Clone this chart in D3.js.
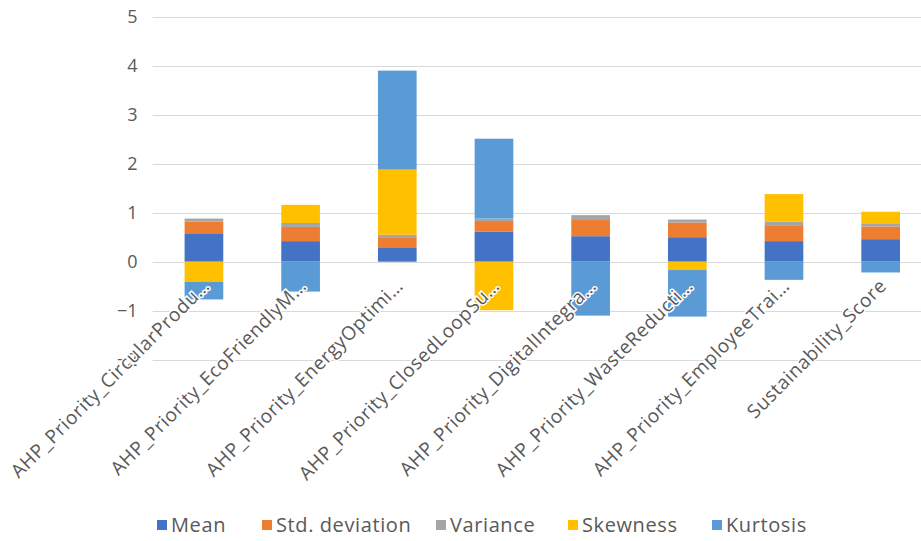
<!DOCTYPE html>
<html>
<head>
<meta charset="utf-8">
<script src="https://cdn.jsdelivr.net/npm/d3@7"></script>
<style>
  html, body { margin: 0; padding: 0; background: #fff; }
  svg { display: block; }
  text { font-family: "Open Sans", Lato, "Liberation Sans", sans-serif; fill: #595959; }
</style>
</head>
<body>
<svg id="chart" width="921" height="541"></svg>
<script>
// Category labels as shown on the axis (long names are truncated with an ellipsis)
const categories = [
  "AHP_Priority_CircularProdu…",
  "AHP_Priority_EcoFriendlyM…",
  "AHP_Priority_EnergyOptimi…",
  "AHP_Priority_ClosedLoopSu…",
  "AHP_Priority_DigitalIntegra…",
  "AHP_Priority_WasteReducti…",
  "AHP_Priority_EmployeeTrai…",
  "Sustainability_Score"
];

// Descriptive statistics per variable
const mean      = [0.58, 0.42, 0.28, 0.61, 0.52, 0.50, 0.42, 0.46];
const stdDev    = [0.24, 0.29, 0.22, 0.22, 0.33, 0.30, 0.31, 0.26];
const variance  = [0.06, 0.08, 0.05, 0.05, 0.10, 0.06, 0.09, 0.05];
const skewness  = [-0.41, 0.37, 1.33, -0.99, 0.00, -0.17, 0.56, 0.25];
const kurtosis  = [-0.36, -0.61, 2.02, 1.63, -1.10, -0.95, -0.37, -0.22];

const seriesNames = ["Mean", "Std. deviation", "Variance", "Skewness", "Kurtosis"];
const yTicks = [-2, -1, 0, 1, 2, 3, 4, 5];

const seriesValues = [mean, stdDev, variance, skewness, kurtosis];
const colors = ["#4472C4", "#ED7D31", "#A5A5A5", "#FFC000", "#5B9BD5"];

// Build rows for d3.stack
const rows = categories.map((c, i) => {
  const r = { category: c };
  seriesNames.forEach((s, k) => { r[s] = seriesValues[k][i]; });
  return r;
});

const stack = d3.stack()
  .keys(seriesNames)
  .order(d3.stackOrderNone)
  .offset(d3.stackOffsetDiverging);
const layers = stack(rows);

const svg = d3.select("#chart");

const plot = { left: 155.6, right: 929, top: 16.7, bottom: 359.7 };

const x = d3.scaleBand()
  .domain(categories)
  .range([plot.left, plot.right])
  .paddingInner(0.6)
  .paddingOuter(0.3);

const y = d3.scaleLinear()
  .domain([-2, 5])
  .range([plot.bottom, plot.top]);

// Horizontal gridlines
svg.append("g")
  .selectAll("line")
  .data(yTicks)
  .join("line")
  .attr("x1", plot.left - 3)
  .attr("x2", plot.right)
  .attr("y1", d => Math.round(y(d)) + 0.5)
  .attr("y2", d => Math.round(y(d)) + 0.5)
  .attr("stroke", "#d9d9d9")
  .attr("stroke-width", 1);

// Y axis tick labels
const yAxis = d3.axisLeft(y).tickValues(yTicks).tickFormat(d3.format("d")).tickSize(0).tickPadding(18);
const yg = svg.append("g")
  .attr("transform", `translate(${plot.left},0)`)
  .call(yAxis);
yg.select(".domain").remove();
yg.selectAll("text")
  .style("font-size", "18px")
  .style("font-family", "\"Open Sans\", Lato, sans-serif")
  .attr("fill", "#595959");

// Stacked bars
svg.append("g")
  .selectAll("g")
  .data(layers)
  .join("g")
  .attr("fill", (d, i) => colors[i])
  .selectAll("rect")
  .data(d => d)
  .join("rect")
  .attr("x", d => x(d.data.category))
  .attr("width", x.bandwidth())
  .attr("y", d => y(Math.max(d[0], d[1])))
  .attr("height", d => Math.abs(y(d[0]) - y(d[1])));

// Category labels, rotated
svg.append("g")
  .selectAll("text")
  .data(categories)
  .join("text")
  .attr("transform", d => `translate(${x(d) + x.bandwidth() / 2 + 7},${287}) rotate(-45)`)
  .attr("text-anchor", "end")
  .style("font-size", "19px")
  .style("letter-spacing", "0.6px")
  .style("paint-order", "stroke")
  .style("stroke", "#fff")
  .style("stroke-width", "3px")
  .text(d => d);

// Legend
const legendX = [157, 262, 436, 568, 712];
const legend = svg.append("g");
seriesNames.forEach((s, i) => {
  const g = legend.append("g").attr("transform", `translate(${legendX[i]},525)`);
  g.append("rect")
    .attr("x", 0).attr("y", -5)
    .attr("width", 10).attr("height", 10)
    .attr("fill", colors[i]);
  g.append("text")
    .attr("x", 14).attr("y", 0)
    .attr("dy", "0.35em")
    .style("font-size", "20px")
    .style("letter-spacing", "0.6px")
    .text(s);
});
</script>
</body>
</html>
